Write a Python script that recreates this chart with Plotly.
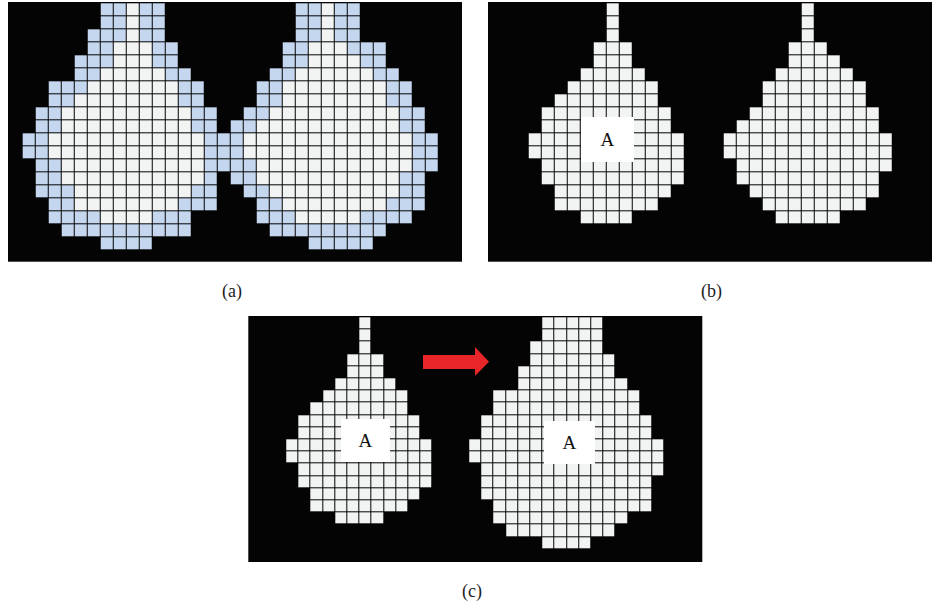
import numpy as np
import plotly.graph_objects as go

# ---------------- data ----------------
# Panel (a): 19 rows x 32 columns, '.' = empty, 'W' = white cell, 'B' = blue (boundary) cell
A_ROWS = [
    "......BBWBB..........BBWBB......",
    "......BBWBB..........BBWBB......",
    ".....BBBWBB..........BBWBB......",
    ".....BBWWWBB........BBWWWBBB....",
    "....BBBWWWBB........BBWWWWBB....",
    "....BBWWWWWBB......BBWWWWWWBB...",
    "..BBBWWWWWWWBB....BBWWWWWWWWBB..",
    "..BBWWWWWWWWBB....BBWWWWWWWWBB..",
    ".BBWWWWWWWWWWBB..BBWWWWWWWWWWBB.",
    ".BBWWWWWWWWWWBB.BBWWWWWWWWWWWBB.",
    "BBWWWWWWWWWWWWBBBWWWWWWWWWWWWWBB",
    "BBWWWWWWWWWWWWBBBWWWWWWWWWWWWWBB",
    ".BBWWWWWWWWWWWBBBBWWWWWWWWWWWWBB",
    ".BBWWWWWWWWWWWB.BBWWWWWWWWWWWBB.",
    ".BBBWWWWWWWWWBB..BBWWWWWWWWWWBB.",
    "..BBWWWWWWWWBBB...BBWWWWWWWWBBB.",
    "..BBBBWWWWBBB.....BBBWWWWWBBBB..",
    "...BBBBBBBBBB......BBBBBBBBB....",
    "......BBBB............BBBBB.....",
]

# Panel (b): (first, last) column of each row, same column grid as panel (a)
B_LEFT_SPANS = [(8, 8), (8, 8), (8, 8), (7, 9), (7, 9), (6, 10), (5, 11), (4, 11), (3, 12),
                (3, 12), (2, 13), (2, 13), (3, 13), (3, 13), (4, 12), (4, 11), (6, 9)]
B_RIGHT_SPANS = [(23, 23), (23, 23), (23, 23), (22, 24), (22, 25), (21, 26), (20, 27), (20, 27),
                 (19, 28), (18, 28), (17, 29), (17, 29), (18, 29), (18, 28), (19, 28), (20, 27),
                 (21, 25)]

# Panel (c): left (eroded) shape and right (grown) shape, spans per row
C_LEFT_SPANS = [(6, 6), (6, 6), (6, 6), (5, 7), (5, 7), (4, 8), (3, 9), (2, 9), (1, 10),
                (1, 10), (0, 11), (0, 11), (1, 11), (1, 11), (2, 10), (2, 9), (4, 7)]
C_RIGHT_SPANS = [(6, 10), (6, 10), (5, 10), (5, 11), (4, 11), (4, 12), (2, 13), (2, 13),
                 (1, 14), (1, 14), (0, 15), (0, 15), (1, 15), (1, 14), (1, 14), (2, 14),
                 (2, 12), (3, 11), (6, 9)]
C_RIGHT_OFFSET = 15

PANEL_LABELS = ["(a)", "(b)", "(c)"]
BOX_TEXT = "A"

# ---------------- styling ----------------
WHITE = "#f2f3f3"
BLUE = "#c4d7ef"
BLACK = "#040404"
SERIF = "Liberation Serif, Times New Roman, serif"
W, H = 932, 604


def grid_from_rows(rows):
    code = {".": np.nan, "W": 1.0, "B": 2.0}
    return np.array([[code[ch] for ch in r] for r in rows], dtype=float)


def grid_from_spans(span_sets, ncols, nrows):
    z = np.full((nrows, ncols), np.nan)
    for spans, off in span_sets:
        for r, (a, b) in enumerate(spans):
            z[r, a + off:b + off + 1] = 1.0
    return z


za = grid_from_rows(A_ROWS)
zb = grid_from_spans([(B_LEFT_SPANS, 0), (B_RIGHT_SPANS, 0)], 32, 19)
zc = grid_from_spans([(C_LEFT_SPANS, 0), (C_RIGHT_SPANS, C_RIGHT_OFFSET)], 31, 19)

cscale = [[0, WHITE], [0.5, WHITE], [0.5, BLUE], [1, BLUE]]

fig = go.Figure()
for z, xa, ya in [(za, "x", "y"), (zb, "x2", "y2"), (zc, "x3", "y3")]:
    fig.add_trace(go.Heatmap(
        z=z, x=np.arange(z.shape[1]), y=np.arange(z.shape[0]),
        zmin=1, zmax=2, colorscale=cscale, showscale=False,
        xgap=1, ygap=1, hoverinfo="skip", xaxis=xa, yaxis=ya))


def ax(domain, rng):
    return dict(domain=domain, range=rng, showgrid=False, zeroline=False,
                showticklabels=False, ticks="", fixedrange=True, showline=False)


fig.update_layout(
    width=W, height=H, autosize=False,
    margin=dict(l=0, r=0, t=0, b=0),
    paper_bgcolor="white", plot_bgcolor=BLACK,
    showlegend=False,
    xaxis=ax([8 / W, 462 / W], [-1.63, 33.3]),
    yaxis=ax([1 - 261.7 / H, 1 - 2 / H], [19.38, -0.6]),
    xaxis2=ax([488 / W, 1.0], [-1.63, -1.63 + 444 / 13]),
    yaxis2=ax([1 - 261.7 / H, 1 - 2 / H], [19.38, -0.6]),
    xaxis3=ax([248.3 / W, 702.3 / W], [-3.61, 33.6]),
    yaxis3=ax([1 - 562 / H, 1 - 316 / H], [19.56, -0.607]),
)
fig.layout.xaxis2.anchor = "y2"
fig.layout.yaxis2.anchor = "x2"
fig.layout.xaxis3.anchor = "y3"
fig.layout.yaxis3.anchor = "x3"

# "A" boxes
for xr, yr, x, y, w, h in [("x2", "y2", 7.54, 9.95, 53, 45),
                           ("x3", "y3", 6.0, 9.6, 49, 43),
                           ("x3", "y3", 22.72, 9.8, 51, 43)]:
    fig.add_annotation(xref=xr, yref=yr, x=x, y=y, text=BOX_TEXT, showarrow=False,
                       width=w, height=h, bgcolor="white", borderpad=0, borderwidth=0,
                       font=dict(family=SERIF, size=19, color="#111"),
                       xanchor="center", yanchor="middle", valign="middle")

# red arrow in panel (c)
fig.add_shape(type="path", xref="x3", yref="y3",
              path="M 10.71,2.59 L 14.97,2.59 L 14.97,1.93 L 16.12,3.14 L 14.97,4.31 "
                   "L 14.97,3.74 L 10.71,3.74 Z",
              fillcolor="#e8262a", line=dict(width=0))

# panel labels
for lab, px, py in zip(PANEL_LABELS, [232, 711, 472], [291, 291, 591]):
    fig.add_annotation(xref="paper", yref="paper", x=px / W, y=1 - py / H, text=lab,
                       showarrow=False, xanchor="center", yanchor="middle",
                       font=dict(family=SERIF, size=18, color="#222"))

fig.write_html("out.html", config={"displayModeBar": False},
               post_script="document.body.style.margin='0';document.body.style.overflow='hidden';")
